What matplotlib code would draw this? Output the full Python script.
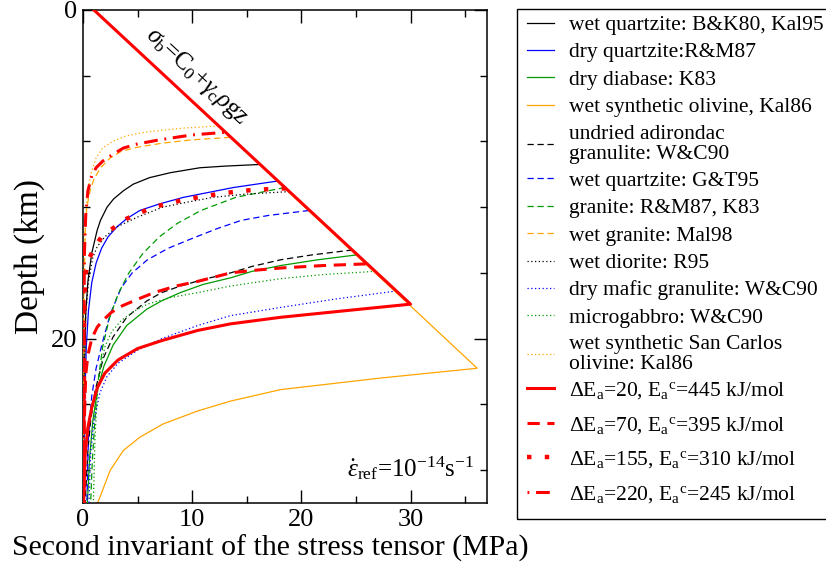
import numpy as np
import matplotlib
matplotlib.use('Agg')
import matplotlib.pyplot as plt
from matplotlib.patches import Rectangle

plt.rcParams['font.family'] = 'serif'
plt.rcParams['font.serif'] = ['Liberation Serif', 'DejaVu Serif']
plt.rcParams['mathtext.fontset'] = 'custom'
plt.rcParams['mathtext.rm'] = 'Liberation Serif'
plt.rcParams['mathtext.it'] = 'Liberation Serif:italic'
plt.rcParams['mathtext.fallback'] = 'stix'

#==========================================================================
#        curves: stress (MPa) vs depth (km)
#==========================================================================
# solid thin lines
wq_bk80_x = [16.2, 13.0, 10.7, 8.0, 6.1, 4.6, 3.7, 2.8, 2.2, 1.6, 1.3, 0.8, 0.45, 0.25, 0.12, 0.05]
wq_bk80_z = [9.4, 9.5, 9.6, 9.9, 10.2, 10.6, 11.0, 11.5, 12.0, 12.8, 13.4, 14.8, 16.5, 18.5, 22.0, 30.0]
dq_rm87_x = [17.9, 13.8, 9.2, 7.0, 5.2, 4.0, 3.1, 2.3, 1.7, 1.2, 0.8, 0.5, 0.3, 0.15, 0.08]
dq_rm87_z = [10.4, 10.8, 11.4, 11.8, 12.2, 12.7, 13.2, 13.8, 14.5, 15.4, 16.6, 18.3, 20.5, 24.0, 30.0]
dd_k83_x = [25.1, 21.5, 18.1, 15.5, 13.5, 11.0, 8.9, 7.2, 5.85, 4.0, 2.75, 1.9, 1.3, 0.9, 0.6, 0.4]
dd_k83_z = [14.9, 15.2, 15.55, 15.9, 16.3, 16.7, 17.2, 17.7, 18.2, 19.2, 20.4, 21.7, 23.2, 25.0, 27.3, 30.0]
wso_k86_x = [1.0, 36.1, 27.2, 18.1, 13.5, 10.5, 7.3, 5.2, 3.7, 2.5, 1.4, 1.3]
wso_k86_z = [0.0, 21.8, 22.4, 23.1, 23.8, 24.4, 25.2, 26.0, 26.8, 28.0, 29.9, 30.0]

# dashed thin lines
uag_wc90_x = [24.7, 21.0, 18.1, 15.5, 13.5, 11.0, 8.9, 7.2, 5.85, 4.0, 2.75, 1.85, 1.1, 0.7, 0.45, 0.2]
uag_wc90_z = [14.6, 14.9, 15.2, 15.6, 16.0, 16.4, 16.8, 17.2, 17.7, 18.7, 19.9, 21.2, 23.2, 25.0, 26.8, 30.0]
wq_gt95_x = [20.7, 17.0, 14.5, 12.3, 10.0, 7.8, 5.9, 4.5, 3.5, 2.5, 1.75, 1.2, 0.8, 0.5, 0.35]
wq_gt95_z = [12.2, 12.5, 12.8, 13.3, 13.9, 14.5, 15.2, 16.0, 16.9, 18.5, 20.3, 21.8, 23.5, 26.0, 30.0]
gr_rm87_x = [18.5, 14.0, 10.8, 8.6, 7.0, 5.5, 4.2, 3.2, 2.4, 1.8, 1.4, 1.1, 0.85, 0.7]
gr_rm87_z = [10.8, 11.4, 12.2, 13.0, 13.8, 14.8, 16.0, 17.3, 18.8, 20.5, 22.5, 24.8, 27.5, 30.0]
wg_m98_x = [13.5, 10.0, 7.3, 5.0, 3.5, 2.5, 1.6, 1.0, 0.65, 0.35, 0.2, 0.1, 0.05]
wg_m98_z = [7.75, 7.9, 8.1, 8.35, 8.6, 9.0, 9.6, 10.3, 11.0, 12.0, 13.5, 17.0, 30.0]

# dotted thin lines
wd_r95_x = [18.9, 15.0, 11.9, 9.5, 7.3, 5.0, 3.1, 2.0, 1.3, 0.9, 0.5, 0.25, 0.12, 0.05]
wd_r95_z = [11.05, 11.2, 11.4, 11.7, 12.0, 12.6, 13.2, 13.8, 14.4, 15.05, 16.5, 18.5, 22.0, 30.0]
dmg_wc90_x = [28.7, 23.0, 18.1, 13.5, 10.5, 7.2, 5.0, 3.2, 2.2, 1.55, 1.0, 0.7, 0.55]
dmg_wc90_z = [17.1, 17.6, 18.1, 18.6, 19.2, 20.0, 20.7, 21.5, 22.3, 23.3, 25.0, 27.0, 30.0]
mg_wc90_x = [26.8, 22.0, 18.1, 15.5, 13.5, 10.5, 8.0, 5.9, 4.5, 3.5, 2.6, 2.0, 1.6, 1.3, 1.1, 0.95]
mg_wc90_z = [15.9, 16.1, 16.35, 16.6, 16.8, 17.2, 17.5, 17.9, 18.4, 18.9, 19.6, 20.5, 21.8, 23.5, 26.0, 30.0]
wsc_k86_x = [12.4, 9.0, 6.0, 4.0, 2.7, 1.8, 1.2, 0.7, 0.4, 0.2, 0.1, 0.05]
wsc_k86_z = [7.05, 7.2, 7.4, 7.65, 8.0, 8.4, 9.0, 10.0, 11.2, 13.0, 16.0, 30.0]

# model curves (thick red)
dE20_x = [1.0, 30.0, 24.0, 18.1, 13.5, 10.5, 7.3, 5.0, 3.2, 2.0, 1.3, 0.8, 0.45, 0.2, 0.05]
dE20_z = [0.0, 17.9, 18.3, 18.7, 19.1, 19.5, 20.1, 20.6, 21.3, 22.1, 23.0, 24.2, 25.4, 27.0, 30.0]
dE70_x = [25.9, 22.0, 18.1, 15.5, 13.5, 10.6, 8.5, 6.5, 5.0, 3.6, 2.6, 1.8, 1.3, 0.8, 0.45, 0.25, 0.12, 0.06]
dE70_z = [15.45, 15.55, 15.7, 15.85, 16.0, 16.5, 16.8, 17.2, 17.6, 18.0, 18.4, 18.9, 19.3, 20.0, 21.0, 22.2, 25.0, 30.0]
dE155_x = [18.6, 15.5, 12.8, 10.5, 8.9, 6.4, 4.0, 2.5, 1.7, 1.1, 0.5, 0.2, 0.1, 0.05]
dE155_z = [10.85, 10.95, 11.15, 11.4, 11.6, 12.0, 12.7, 13.4, 13.8, 14.4, 15.2, 16.2, 19.0, 30.0]
dE220_x = [12.9, 10.0, 7.0, 5.0, 3.7, 2.7, 1.8, 1.2, 0.8, 0.45, 0.25, 0.12, 0.05]
dE220_z = [7.45, 7.6, 7.9, 8.15, 8.4, 8.8, 9.2, 9.6, 10.1, 11.0, 12.5, 15.0, 30.0]

labels = ['wet quartzite: B&K80, Kal95', 'dry quartzite:R&M87', 'dry diabase: K83',
          'wet synthetic olivine, Kal86', 'undried adirondac\ngranulite: W&C90',
          'wet quartzite: G&T95', 'granite: R&M87, K83', 'wet granite: Mal98',
          'wet diorite: R95', 'dry mafic granulite: W&C90', 'microgabbro: W&C90',
          'wet synthetic San Carlos\nolivine: Kal86',
          r'$\Delta$E$_\mathrm{a}$=20, E$_\mathrm{a}{}^\mathrm{c}$=445 kJ/mol',
          r'$\Delta$E$_\mathrm{a}$=70, E$_\mathrm{a}{}^\mathrm{c}$=395 kJ/mol',
          r'$\Delta$E$_\mathrm{a}$=155, E$_\mathrm{a}{}^\mathrm{c}$=310 kJ/mol',
          r'$\Delta$E$_\mathrm{a}$=220, E$_\mathrm{a}{}^\mathrm{c}$=245 kJ/mol']

#==========================================================================
#                              styles
#==========================================================================
orange = '#ffa500'
green = '#009a00'
dash = (0, (5, 3))
dot = (0, (1, 2))
curves = [
    (wq_bk80_x, wq_bk80_z, 'black', '-', 0.9, 3),
    (dq_rm87_x, dq_rm87_z, 'blue', '-', 0.9, 3),
    (dd_k83_x, dd_k83_z, green, '-', 0.9, 3),
    (wso_k86_x, wso_k86_z, orange, '-', 0.9, 2),
    (uag_wc90_x, uag_wc90_z, 'black', dash, 0.9, 3),
    (wq_gt95_x, wq_gt95_z, 'blue', dash, 0.9, 3),
    (gr_rm87_x, gr_rm87_z, green, dash, 0.9, 3),
    (wg_m98_x, wg_m98_z, orange, dash, 0.9, 3),
    (wd_r95_x, wd_r95_z, 'black', dot, 0.9, 3),
    (dmg_wc90_x, dmg_wc90_z, 'blue', dot, 0.9, 3),
    (mg_wc90_x, mg_wc90_z, green, dot, 0.9, 3),
    (wsc_k86_x, wsc_k86_z, orange, dot, 0.9, 3),
    (dE20_x, dE20_z, 'red', '-', 2.2, 5),
    (dE70_x, dE70_z, 'red', (0, (4, 2.5)), 2.2, 5),
    (dE155_x, dE155_z, 'red', (0, (1, 3)), 3.2, 5),
    (dE220_x, dE220_z, 'red', (0, (0.6, 2.2, 4.5, 2.2)), 2.2, 5),
]

W, H = 826, 563
fig = plt.figure(figsize=(W/100, H/100), dpi=100)
ax = fig.add_axes([83/W, 1-503/H, (487-83)/W, (503-10)/H])

handles = []
for (x, z, c, ls, lw, zo), lab in zip(curves, labels):
    h, = ax.plot(x, z, color=c, linestyle=ls, linewidth=lw, zorder=zo, label=lab)
    handles.append(h)

ax.set_xlim(0, 37)
ax.set_ylim(30, 0)
ax.set_xticks([0, 10, 20, 30])
ax.set_xticks([5, 15, 25, 35], minor=True)
ax.set_yticks([0, 20])
ax.set_yticks([4, 8, 12, 16, 24, 28], minor=True)
ax.tick_params(which='both', direction='in', top=True, right=True, labelsize=19, width=1.0)
ax.tick_params(which='major', length=9.5, pad=4)
ax.tick_params(which='minor', length=5)
for s in ax.spines.values():
    s.set_linewidth(1.1)

fig.text(30/W, 1-256/H, 'Depth (km)', fontsize=24, rotation=90, ha='center', va='center')
fig.text(270/W, 1-548/H, 'Second invariant of the stress tensor (MPa)',
         fontsize=21.5, ha='center', va='center')

fig.text(197/W, 1-76/H, r'$\sigma_\mathrm{b}$=C$_0$+$\gamma_\mathrm{c}\rho$gz',
         fontsize=18, rotation=-43, ha='center', va='center', rotation_mode='anchor')
fig.text(410/W, 1-468/H, r'$\dot{\varepsilon}_\mathrm{ref}$=10$^{-14}$s$^{-1}$',
         fontsize=18, ha='center', va='center')

#==========================================================================
#          legend: material laws (upper part) and model curves (lower)
#==========================================================================
legkw = dict(fontsize=15.5, frameon=False, handlelength=1.25, handletextpad=0.7,
             borderpad=0, borderaxespad=0, loc='upper left')
leg1 = fig.legend(handles=handles[:12], bbox_to_anchor=(527/W, 1-15/H),
                  labelspacing=0.34, **legkw)
for t in leg1.get_texts():
    t.set_linespacing(1.07)
leg2 = fig.legend(handles=handles[12:], bbox_to_anchor=(527/W, 1-380/H),
                  labelspacing=0.64, **legkw)
fig.add_artist(Rectangle((517/W, 1-519/H), 400/W, 510/H, transform=fig.transFigure,
                         fill=False, edgecolor='black', linewidth=1.0))

plt.savefig('out.png', dpi=100)
